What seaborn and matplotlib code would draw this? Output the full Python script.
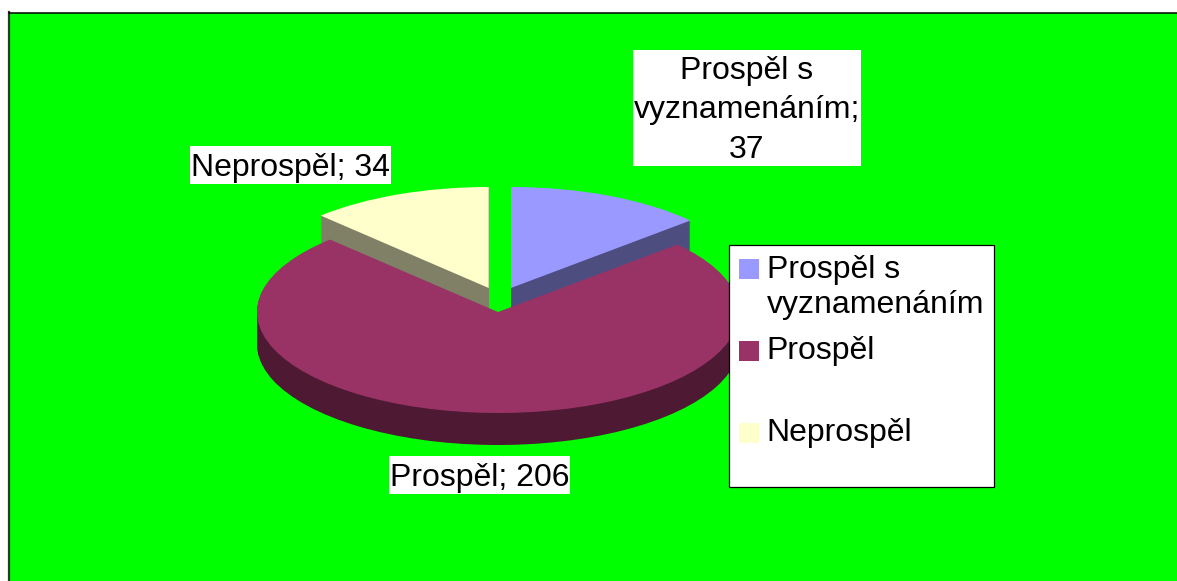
import matplotlib
matplotlib.use("Agg")
import matplotlib.pyplot as plt
import seaborn as sns
from matplotlib.patches import Patch, Rectangle
from matplotlib.path import Path
from matplotlib.legend_handler import HandlerPatch

categories = ["Prospěl s vyznamenáním", "Prospěl", "Neprospěl"]
values = [37, 206, 34]
legend_labels = ["Prospěl s\nvyznamenáním", "Prospěl\n\u00a0", "Neprospěl\n\u00a0"]
data_labels = ["Prospěl s\nvyznamenáním;\n37", "Prospěl; 206", "Neprospěl; 34"]
top_colors = ["#9999FF", "#993366", "#FFFFCC"]
side_colors = ["#4D4D80", "#4D1933", "#808066"]
background = "#00FF00"

W, H = 1177, 581
sns.set_theme(style="white", font="Liberation Sans")
plt.rcParams["font.family"] = ["Liberation Sans", "DejaVu Sans"]
FS = 23

fig = plt.figure(figsize=(W / 100, H / 100), dpi=100, facecolor="white")
AX_L, AX_T = 9, 12.5
ax = fig.add_axes([AX_L / W, 0, (W - AX_L) / W, (H - AX_T) / H])

CX, CY, RX, RY = 498, 312, 241, 101
DEPTH = 32
shifts = [(13, -24), (0, 0), (-9.3, -24)]


def layer(dy, colors, z_for):
    wedges, _ = ax.pie(values, colors=colors, startangle=90, counterclock=False,
                       radius=1, wedgeprops={"linewidth": 0})
    for i, w in enumerate(wedges):
        sx, sy = shifts[i]
        w.set_center((sx / RX, -(sy + dy) / RY))
        w.set_zorder(z_for(i))


for d in range(DEPTH, 0, -1):
    layer(d, side_colors, lambda i: 3 if i == 1 else 1)
layer(0, top_colors, lambda i: 4 if i == 1 else 2)

ax.set_aspect("auto")
ax.set_xlim((AX_L - CX) / RX, (W - CX) / RX)
ax.set_ylim((CY - H) / RY, (CY - AX_T) / RY)
ax.set_facecolor(background)
ax.set_frame_on(True)
ax.spines["right"].set_visible(False)
ax.spines["bottom"].set_visible(False)
ax.spines["left"].set(visible=True, color="#333333", linewidth=1.6)
ax.spines["top"].set(visible=True, color="black", linewidth=1.1)


def label_box(x0, y0, width, height, mutation_size):
    """White label backing, padded more above the text than below it (pixels)."""
    left, right = x0 - 0.6, x0 + width + 0.6
    bottom, top = y0 - 1.3, y0 + height + 6.3
    return Path([(left, bottom), (right, bottom), (right, top), (left, top), (left, bottom)],
                closed=True)


label_pos = [(747, 157.7), (479.5, 485.7), (290.5, 175.7)]
for text, (px, py) in zip(data_labels, label_pos):
    fig.text(px / W, 1 - py / H, text, fontsize=FS, color="black", ha="center",
             va="baseline", linespacing=1.41, zorder=6,
             bbox=dict(boxstyle=label_box, facecolor="white", edgecolor="none"))

handles = [Patch(facecolor=c, edgecolor="none", label=l)
           for c, l in zip(top_colors, legend_labels)]


class OffsetSquare(HandlerPatch):
    """Legend swatch placed beside the first line of its label."""

    def create_artists(self, legend, orig_handle, xdescent, ydescent, width, height,
                       fontsize, trans):
        side = 20 * 0.72
        lift = 10.6 if orig_handle is handles[-1] else 13.5
        r = Rectangle((-xdescent, height / 2 - side / 2 + lift), side, side,
                      facecolor=orig_handle.get_facecolor(), edgecolor="none",
                      transform=trans)
        return [r]


leg = fig.legend(handles=handles, labels=legend_labels, loc="upper left",
                 bbox_to_anchor=(728.5 / W, 1 - 244.5 / H), bbox_transform=fig.transFigure,
                 borderaxespad=0, borderpad=0.32, handlelength=0.626, handletextpad=0.25,
                 labelspacing=0.5, fontsize=FS, labelcolor="black", frameon=True,
                 fancybox=False, framealpha=1, facecolor="white", edgecolor="black",
                 handler_map={Patch: OffsetSquare()})
leg.get_frame().set_linewidth(0.9)
leg.set_zorder(5)
for t in leg.get_texts():
    t.set_linespacing(1.25)
leg.get_texts()[-1].set_linespacing(0.93)

fig.savefig("out.png", dpi=100, facecolor="white")
